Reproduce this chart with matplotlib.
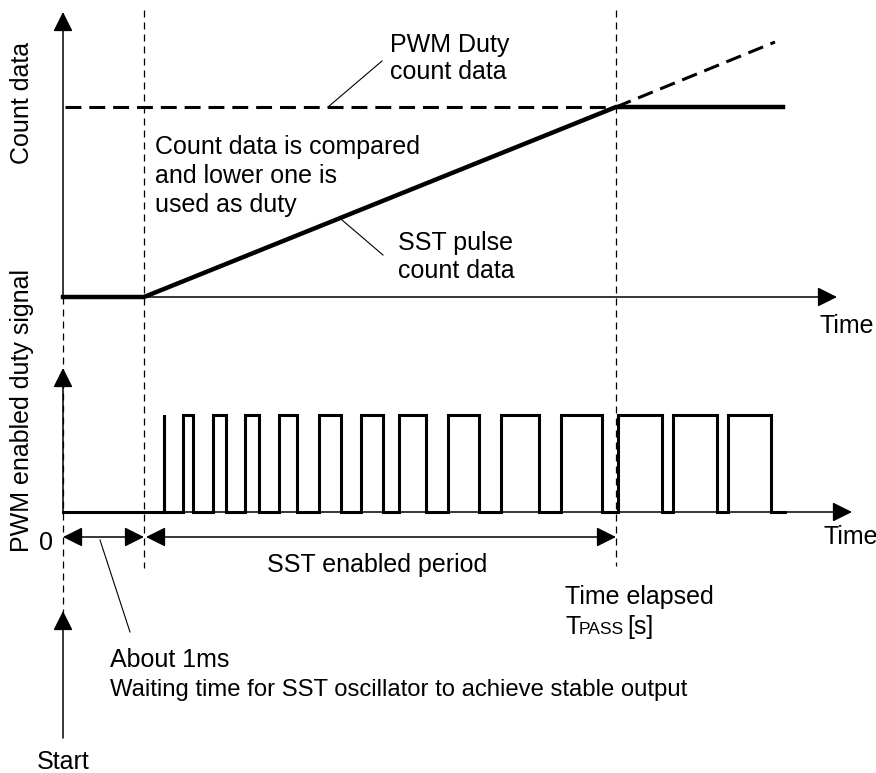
import matplotlib
matplotlib.use('Agg')
import matplotlib.pyplot as plt
import numpy as np

plt.rcParams['font.family'] = ['Liberation Sans', 'DejaVu Sans']

# Timing points (x, in drawing units)
t_start = 63
t_sst = 144
t_pass = 616
t_hold_end = 783
t_extrap_end = 775
t_axis_top_end = 837
t_axis_bot_end = 852

# Count data levels (y, drawing units, down is positive)
count_base = 297
count_duty = 107
count_extrap = 42
count_axis_top = 12

# PWM pulse train (rise / fall edges)
pulse_rise = [164, 183, 213, 245, 279, 319, 361, 399, 448, 501, 561, 618, 673, 728]
pulse_fall = [164, 193, 226, 259, 297, 341, 383, 426, 479, 539, 602, 662, 717, 771]
pwm_low = 512
pwm_high = 415
pwm_end = 785
pwm_axis_top = 368

arrow_y = 537

fig = plt.figure(figsize=(8.76, 7.73), dpi=100)
ax = fig.add_axes([0, 0, 1, 1])
ax.set_xlim(0, 876)
ax.set_ylim(773, 0)
ax.axis('off')

def arrow(tip, tail, style='-|>', lw=1.1):
    ax.annotate('', xy=tip, xytext=tail,
                arrowprops=dict(arrowstyle=style + ', head_length=0.6, head_width=0.3',
                                color='black', lw=lw, mutation_scale=20,
                                shrinkA=0, shrinkB=0))

# thin dashed guide lines
vdash = dict(color='black', lw=0.9, dashes=(5.6, 4))
ax.plot([t_start, t_start], [count_base, 612], **vdash)
ax.plot([t_sst, t_sst], [10, 568], **vdash)
ax.plot([t_pass, t_pass], [10, 566], **vdash)

# upper chart axes
arrow((t_start, count_axis_top), (t_start, count_base))
arrow((t_axis_top_end, count_base), (t_start, count_base))

# PWM duty count data (dashed)
ax.plot([t_start + 2, t_pass], [count_duty, count_duty], color='black', lw=2.2, dashes=(5.2, 2.6))
ax.plot([t_pass, t_extrap_end], [count_duty, count_extrap], color='black', lw=2.2, dashes=(5.2, 2.6))

# SST pulse count data (used duty)
ax.plot([t_start, t_sst, t_pass, t_hold_end],
        [count_base, count_base, count_duty, count_duty],
        color='black', lw=3.2, solid_joinstyle='miter')

# lower chart axes
arrow((t_start, pwm_axis_top), (t_start, pwm_low))
arrow((t_axis_bot_end, pwm_low), (t_start, pwm_low))

# pulse waveform
xs = [t_start]
ys = [pwm_low]
for r, f in zip(pulse_rise, pulse_fall):
    xs += [r, r, f, f]
    ys += [pwm_low, pwm_high, pwm_high, pwm_low]
xs.append(pwm_end)
ys.append(pwm_low)
ax.plot(xs, ys, color='black', lw=2.2, solid_joinstyle='miter')

# period arrows
arrow((t_start, arrow_y), (t_sst, arrow_y), style='<|-|>')
arrow((t_sst + 2, arrow_y), (t_pass, arrow_y), style='<|-|>')

# start arrow
arrow((t_start, 611), (t_start, 738))

fs = 18
# axis labels
ax.text(22, 103, 'Count data', rotation=90, ha='center', va='center', fontsize=fs)
ax.text(22, 411, 'PWM enabled duty signal', rotation=90, ha='center', va='center', fontsize=fs)
ax.text(820, 326, 'Time', ha='left', va='center', fontsize=fs)
ax.text(823, 537, 'Time', ha='left', va='center', fontsize=fs)
ax.text(46, 543, '0', ha='center', va='center', fontsize=fs)

# annotations
ax.text(390, 45, 'PWM Duty', ha='left', va='center', fontsize=fs)
ax.text(390, 72, 'count data', ha='left', va='center', fontsize=fs)
ax.plot([382, 328], [61, 107], color='black', lw=0.8)

ax.text(155, 147, 'Count data is compared', ha='left', va='center', fontsize=fs)
ax.text(155, 176, 'and lower one is', ha='left', va='center', fontsize=fs)
ax.text(155, 205, 'used as duty', ha='left', va='center', fontsize=fs)

ax.text(398, 243, 'SST pulse', ha='left', va='center', fontsize=fs)
ax.text(398, 271, 'count data', ha='left', va='center', fontsize=fs)
ax.plot([342, 383], [220, 255], color='black', lw=0.8)

ax.text(377, 565, 'SST enabled period', ha='center', va='center', fontsize=fs)

ax.text(565, 597, 'Time elapsed', ha='left', va='center', fontsize=fs)
ax.text(565, 627, 'T', ha='left', va='center', fontsize=fs)
ax.text(579, 629, 'PASS', ha='left', va='center', fontsize=12.5)
ax.text(627, 627, '[s]', ha='left', va='center', fontsize=fs)

ax.plot([100, 130], [540, 632], color='black', lw=0.8)
ax.text(110, 660, 'About 1ms', ha='left', va='center', fontsize=fs)
ax.text(110, 690, 'Waiting time for SST oscillator to achieve stable output',
        ha='left', va='center', fontsize=17.2)

ax.text(63, 762, 'Start', ha='center', va='center', fontsize=fs)

fig.savefig('out.png', dpi=100)
